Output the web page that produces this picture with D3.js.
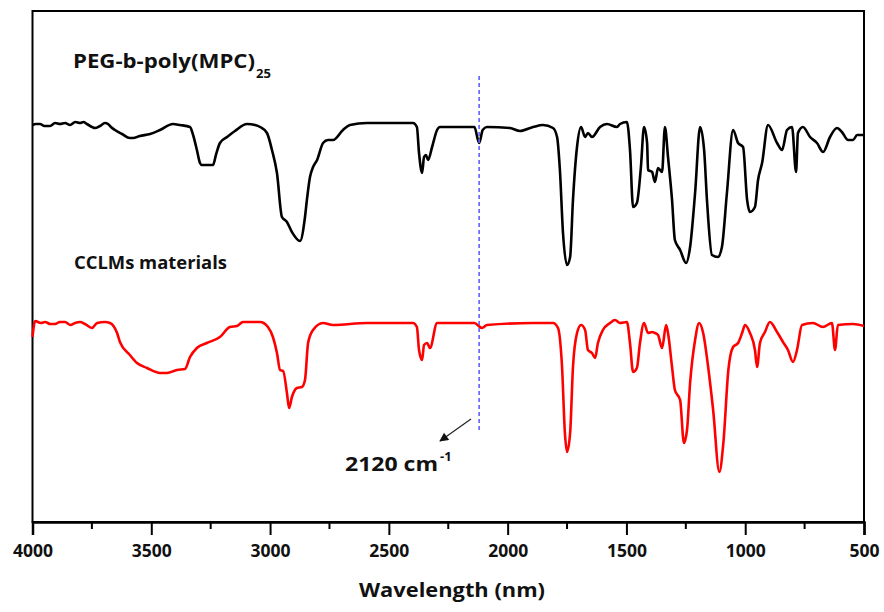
<!DOCTYPE html>
<html>
<head>
<meta charset="utf-8">
<script src="https://cdn.jsdelivr.net/npm/d3@7"></script>
<style>
  html, body { margin: 0; padding: 0; background: #fff; }
  svg { display: block; }
  text { font-family: "Open Sans", "Noto Sans", sans-serif; font-weight: 700; fill: #111; }
</style>
</head>
<body>
<svg id="chart" width="884" height="612"></svg>
<script>
// FTIR spectra: [wavenumber (cm-1), transmittance (a.u.)]
const pegSpectrum = [
  [4000,39.7],[3985,39.8],[3968,39.8],[3950,39.6],[3926,39.6],[3905,39.9],[3884,39.8],[3863,39.9],
  [3842,39.7],[3820,40.0],[3800,39.9],[3785,40.0],[3771,39.8],[3737,39.4],
  [3716,39.6],[3695,39.9],[3682,39.8],[3670,39.5],[3653,39.2],[3623,38.8],[3590,38.4],[3577,38.4],[3548,38.6],[3505,38.8],
  [3463,39.2],[3409,39.8],[3379,39.7],[3337,39.5],[3324,38.7],[3308,37.2],[3295,35.9],[3287,35.7],
  [3261,35.7],[3240,35.7],[3228,36.7],[3211,37.9],[3181,38.5],[3148,39.1],[3097,39.8],[3063,39.7],
  [3042,39.5],[3013,38.9],[2992,37.2],[2971,34.9],[2950,30.5],[2929,30.0],[2908,29.0],[2874,28.1],
  [2853,30.5],[2845,32.2],[2832,34.5],[2819,35.5],[2802,36.2],[2777,37.9],[2756,38.2],[2735,38.2],
  [2693,39.2],[2664,39.7],[2592,39.9],[2398,39.9],[2382,39.5],[2373,36.9],[2360,34.9],[2352,36.5],
  [2344,36.7],[2335,36.2],[2318,37.5],[2297,39.2],[2285,39.5],[2140,39.5],[2120,37.9],[2105,39.2],
  [2087,39.5],[1990,39.4],[1948,39.1],[1893,39.5],[1851,39.7],[1809,39.4],[1792,38.5],[1780,35.2],
  [1767,28.9],[1750,25.7],[1737,26.5],[1725,32.2],[1708,37.5],[1691,39.5],[1674,38.5],[1662,38.9],
  [1645,38.5],[1611,39.5],[1582,39.8],[1540,39.5],[1527,39.8],[1498,40.0],[1485,37.2],[1472,31.5],
  [1456,31.9],[1439,35.5],[1426,39.5],[1413,37.9],[1409,35.2],[1392,35.0],[1380,34.0],[1367,35.4],
  [1350,35.0],[1338,39.5],[1325,36.5],[1308,32.2],[1296,28.2],[1274,27.2],[1249,25.9],[1232,27.5],
  [1211,32.9],[1190,39.5],[1173,37.2],[1161,32.2],[1140,26.7],[1115,26.5],[1098,27.5],[1077,32.9],
  [1051,39.2],[1030,37.9],[1009,37.5],[992,32.2],[980,31.0],[959,31.5],[946,34.2],[929,35.9],
  [904,39.7],[866,37.9],[845,37.2],[824,39.2],[803,39.5],[786,35.0],[778,38.9],[757,39.5],
  [727,38.5],[698,37.9],[672,37.0],[643,38.5],[614,39.4],[593,39.0],[567,38.2],[546,38.2],
  [529,38.7],[500,38.7]
];

const cclmSpectrum = [
  [4000,18.5],[3989,20.1],[3965,19.9],[3947,20.0],[3925,19.8],[3905,19.8],[3885,20.0],[3863,20.0],
  [3840,19.7],[3821,19.9],[3800,20.0],[3779,19.8],[3750,19.4],
  [3728,19.9],[3695,20.0],[3674,19.9],[3644,18.9],[3632,18.0],[3590,16.7],[3560,15.9],[3518,15.4],
  [3463,14.9],[3434,14.9],[3392,15.2],[3358,15.3],[3337,16.5],[3308,17.4],[3266,17.9],[3211,18.5],
  [3169,19.5],[3139,19.6],[3114,20.0],[3042,20.0],[3009,19.5],[2988,18.5],[2971,16.9],[2958,15.2],
  [2945,15.1],[2929,12.9],[2920,11.4],[2908,12.5],[2887,13.4],[2866,13.5],[2853,14.2],[2840,17.9],
  [2819,19.2],[2777,19.9],[2735,19.7],[2592,19.9],[2398,19.9],[2382,19.5],[2373,17.2],[2360,16.2],
  [2352,17.7],[2339,17.9],[2327,17.4],[2297,19.9],[2140,19.9],[2108,19.4],[2087,19.7],[1893,19.9],
  [1809,19.9],[1788,19.4],[1771,15.5],[1759,8.9],[1750,7.0],[1737,8.9],[1725,15.5],[1708,18.9],
  [1691,19.7],[1674,19.2],[1662,17.2],[1645,16.9],[1632,16.4],[1620,17.9],[1599,19.2],[1569,19.9],
  [1548,20.2],[1527,19.9],[1498,20.0],[1485,17.9],[1472,15.0],[1456,15.4],[1443,17.9],[1426,19.9],
  [1409,18.9],[1392,19.0],[1380,18.9],[1367,18.7],[1350,17.4],[1333,19.7],[1325,18.9],[1308,15.5],
  [1296,13.2],[1274,12.2],[1258,7.9],[1245,9.2],[1232,13.9],[1211,18.2],[1194,19.9],[1177,18.9],
  [1156,15.5],[1135,11.2],[1109,5.0],[1092,7.9],[1071,15.2],[1051,17.5],[1030,17.9],[1013,18.9],
  [1001,19.7],[980,18.9],[959,17.2],[950,15.5],[938,17.9],[917,19.0],[896,20.0],[866,19.0],
  [841,18.0],[820,17.2],[799,16.0],[782,17.2],[761,19.7],[715,19.9],[673,19.5],[635,19.9],
  [622,17.2],[610,19.7],[546,19.8],[500,19.6]
];

const xTickValues = [4000, 3500, 3000, 2500, 2000, 1500, 1000, 500];
const xMinorTicks = [3750, 3250, 2750, 2250, 1750, 1250, 750];
const seriesNames = ["PEG-b-poly(MPC)", "CCLMs materials"];
const seriesColors = ["#000000", "#ff0000"];
const markerWavenumber = 2120;

const svg = d3.select("#chart");
const plot = { left: 32.5, right: 864, top: 11, bottom: 522 };

const x = d3.scaleLinear().domain([4000, 500]).range([plot.left, plot.right]);
const y = d3.scaleLinear().domain([0, 51.1]).range([plot.bottom, plot.top]);

// frame
svg.append("rect")
  .attr("x", plot.left).attr("y", plot.top)
  .attr("width", plot.right - plot.left).attr("height", plot.bottom - plot.top)
  .attr("fill", "none").attr("stroke", "#000").attr("stroke-width", 2);

// bottom axis with major/minor ticks pointing outward
const axisG = svg.append("g").attr("transform", `translate(0,${plot.bottom})`);
axisG.call(d3.axisBottom(x).tickValues(xTickValues).tickSize(13).tickFormat(d3.format("d")).tickPadding(10))
  .call(g => g.select(".domain").attr("stroke", "#000").attr("stroke-width", 2.5))
  .call(g => g.selectAll(".tick line").attr("stroke", "#000").attr("stroke-width", 2))
  .call(g => g.selectAll(".tick text")
    .attr("fill", "#111")
    .style("font-family", "'Open Sans', sans-serif")
    .style("font-weight", 700)
    .style("font-size", "17.5px"));
axisG.selectAll(".minor").data(xMinorTicks).join("line")
  .attr("class", "minor")
  .attr("x1", d => x(d)).attr("x2", d => x(d))
  .attr("y1", 0).attr("y2", 7)
  .attr("stroke", "#000").attr("stroke-width", 2);

// axis title
svg.append("text")
  .attr("x", 452).attr("y", 597)
  .attr("text-anchor", "middle")
  .attr("textLength", 186).attr("lengthAdjust", "spacingAndGlyphs")
  .style("font-size", "20px")
  .text("Wavelength (nm)");

// spectra
const line = d3.line()
  .x(d => x(d[0]))
  .y(d => y(d[1]))
  .curve(d3.curveMonotoneX);

[pegSpectrum, cclmSpectrum].forEach((s, i) => {
  svg.append("path")
    .datum(s)
    .attr("d", line)
    .attr("fill", "none")
    .attr("stroke", seriesColors[i])
    .attr("stroke-width", 2.6)
    .attr("stroke-linejoin", "round");
});

// marker line at the azide band
svg.append("line")
  .attr("x1", x(markerWavenumber)).attr("x2", x(markerWavenumber))
  .attr("y1", 76).attr("y2", 431)
  .attr("stroke", "#6060ff").attr("stroke-width", 1.6)
  .attr("stroke-dasharray", "4,3");

// arrow toward the band label
svg.append("defs").append("marker")
  .attr("id", "arrowhead")
  .attr("viewBox", "0 0 10 10")
  .attr("refX", 9).attr("refY", 5)
  .attr("markerWidth", 12).attr("markerHeight", 9)
  .attr("markerUnits", "userSpaceOnUse")
  .attr("orient", "auto")
  .append("path").attr("d", "M0,0 L10,5 L0,10 z").attr("fill", "#111");

svg.append("line")
  .attr("x1", 471).attr("y1", 419)
  .attr("x2", 440).attr("y2", 441)
  .attr("stroke", "#222").attr("stroke-width", 1.2)
  .attr("marker-end", "url(#arrowhead)");

// series labels
const t1 = svg.append("text").attr("x", 73).attr("y", 68).style("font-size", "19px");
t1.append("tspan").attr("textLength", 182).attr("lengthAdjust", "spacingAndGlyphs").text(seriesNames[0]);
t1.append("tspan").attr("x", 256).attr("dy", 10).style("font-size", "13px").text("25");

svg.append("text").attr("x", 74).attr("y", 269)
  .attr("textLength", 153).attr("lengthAdjust", "spacingAndGlyphs")
  .style("font-size", "18px").text(seriesNames[1]);

const t3 = svg.append("text").attr("x", 345).attr("y", 471).style("font-size", "19px");
t3.append("tspan").attr("textLength", 93).attr("lengthAdjust", "spacingAndGlyphs").text(markerWavenumber + " cm");
t3.append("tspan").attr("x", 440).attr("dy", -10).style("font-size", "13px").text("-1");
</script>
</body>
</html>
